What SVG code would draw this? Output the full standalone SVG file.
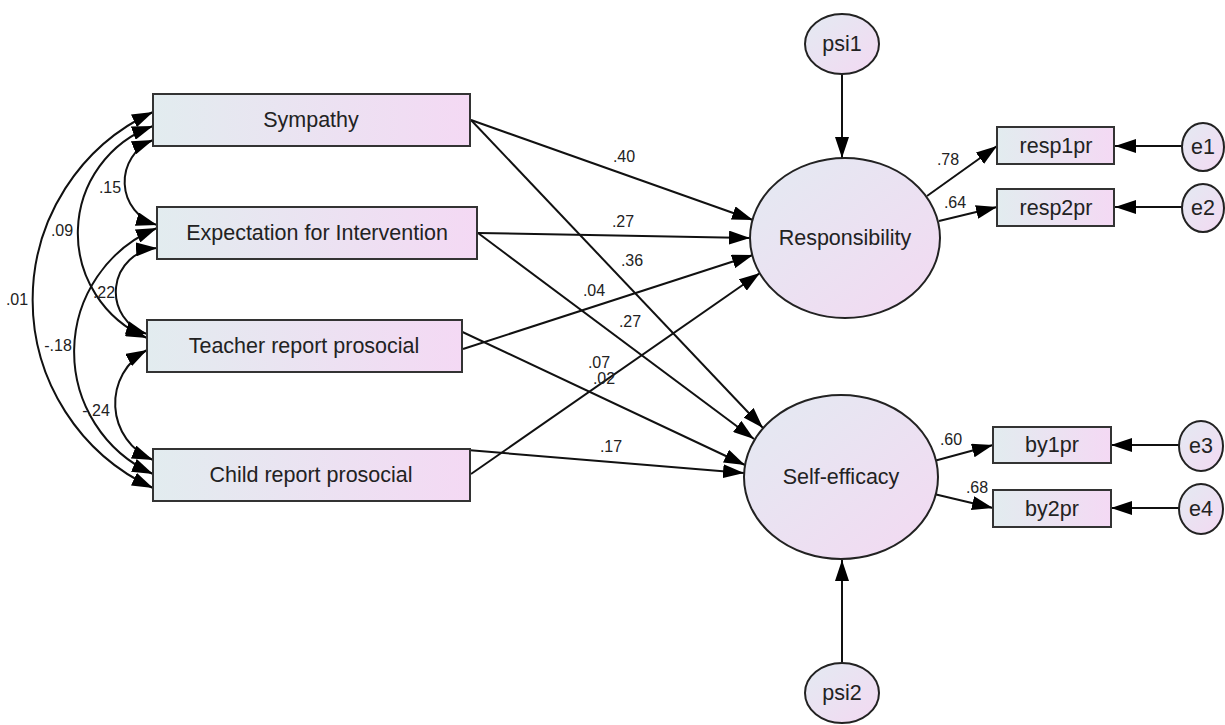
<svg xmlns="http://www.w3.org/2000/svg" width="1225" height="725" viewBox="0 0 1225 725">
  <defs>
    <linearGradient id="boxFill" x1="0" y1="0" x2="1" y2="0">
      <stop offset="0" stop-color="#e2ecef"/>
      <stop offset="1" stop-color="#f4d9f4"/>
    </linearGradient>
    <linearGradient id="ovalFill" x1="0" y1="0" x2="1" y2="1">
      <stop offset="0" stop-color="#e3eaf2"/>
      <stop offset="1" stop-color="#f3d9f2"/>
    </linearGradient>
    <marker id="arrow" markerUnits="userSpaceOnUse" markerWidth="22" markerHeight="14" refX="21" refY="7" orient="auto-start-reverse">
      <path d="M0,0 L21,7 L0,14 z" fill="#000"/>
    </marker>
    <style>
      .box { fill: url(#boxFill); stroke: #333; stroke-width: 2; }
      .oval { fill: url(#ovalFill); stroke: #222; stroke-width: 2; }
      .path { fill: none; stroke: #111; stroke-width: 2; marker-end: url(#arrow); }
      .cov { fill: none; stroke: #111; stroke-width: 2; marker-start: url(#arrow); marker-end: url(#arrow); }
      .lbl { font-family: "Liberation Sans", Arial, sans-serif; font-size: 21.5px; fill: #222; text-anchor: middle; dominant-baseline: central; }
      .coef { font-family: "Liberation Sans", Arial, sans-serif; font-size: 16px; fill: #222; text-anchor: middle; dominant-baseline: central; }
    </style>
  </defs>
  <rect width="1225" height="725" fill="#fff"/>

  <!-- connectors: regressions, loadings, error terms and covariances -->
  <g id="connectors">
    <path class="path" d="M471,120 L753,220"/>
    <path class="path" d="M471,120 L763,428"/>
    <path class="path" d="M478,233 L750,238"/>
    <path class="path" d="M478,233 L754,439"/>
    <path class="path" d="M463,349 L753,255"/>
    <path class="path" d="M437,320 L745,465"/>
    <path class="path" d="M471,474 L760,273"/>
    <path class="path" d="M455,449 L744,473"/>

    <path class="path" d="M842,74 L842,158"/>
    <path class="path" d="M842,663 L842,560"/>

    <path class="path" d="M927,196 L997,146"/>
    <path class="path" d="M939,221 L997,207"/>
    <path class="path" d="M934,461 L993,445"/>
    <path class="path" d="M934,494 L993,508"/>

    <path class="path" d="M1182,146 L1115,146"/>
    <path class="path" d="M1182,207 L1115,207"/>
    <path class="path" d="M1179,445 L1111,445"/>
    <path class="path" d="M1179,508 L1111,508"/>

    <path class="cov" d="M153,112 A207,207 0 0 0 153,488"/>
    <path class="cov" d="M153,126 A114,114 0 0 0 147,338"/>
    <path class="cov" d="M153,140 A45,45 0 0 0 157,225"/>
    <path class="cov" d="M157,248 A44,44 0 0 0 147,334"/>
    <path class="cov" d="M157,228 A134,134 0 0 0 153,474"/>
    <path class="cov" d="M147,350 A61,61 0 0 0 153,460"/>

    <text class="coef" x="17" y="299">.01</text>
    <text class="coef" x="62" y="230">.09</text>
    <text class="coef" x="110" y="187">.15</text>
    <text class="coef" x="104" y="292">.22</text>
    <text class="coef" x="58" y="345">-.18</text>
    <text class="coef" x="96" y="410">-.24</text>

    <text class="coef" x="624" y="156">.40</text>
    <text class="coef" x="623" y="221">.27</text>
    <text class="coef" x="632" y="260">.36</text>
    <text class="coef" x="594" y="290">.04</text>
    <text class="coef" x="630" y="321">.27</text>
    <text class="coef" x="599" y="362">.07</text>
    <text class="coef" x="604" y="378">.02</text>
    <text class="coef" x="611" y="446">.17</text>

    <text class="coef" x="948" y="159">.78</text>
    <text class="coef" x="955" y="202">.64</text>
    <text class="coef" x="951" y="439">.60</text>
    <text class="coef" x="977" y="487">.68</text>
  </g>

  <g id="sympathy">
    <rect class="box" x="153" y="94" width="317" height="52"/>
    <text class="lbl" x="311" y="120">Sympathy</text>
  </g>
  <g id="expectation">
    <rect class="box" x="157" y="207" width="320" height="52"/>
    <text class="lbl" x="317" y="233">Expectation for Intervention</text>
  </g>
  <g id="teacher">
    <rect class="box" x="147" y="320" width="315" height="52"/>
    <text class="lbl" x="304" y="346">Teacher report prosocial</text>
  </g>
  <g id="child">
    <rect class="box" x="153" y="449" width="317" height="52"/>
    <text class="lbl" x="311" y="475">Child report prosocial</text>
  </g>

  <g id="responsibility">
    <ellipse class="oval" cx="845" cy="238" rx="95" ry="80"/>
    <text class="lbl" x="845" y="238">Responsibility</text>
  </g>
  <g id="self-efficacy">
    <ellipse class="oval" cx="841" cy="477" rx="97" ry="82"/>
    <text class="lbl" x="841" y="477">Self-efficacy</text>
  </g>
  <g id="psi1">
    <ellipse class="oval" cx="842" cy="44" rx="37" ry="30"/>
    <text class="lbl" x="842" y="44">psi1</text>
  </g>
  <g id="psi2">
    <ellipse class="oval" cx="842" cy="693" rx="37" ry="30"/>
    <text class="lbl" x="842" y="693">psi2</text>
  </g>

  <g id="resp1pr">
    <rect class="box" x="997" y="127" width="117" height="37"/>
    <text class="lbl" x="1056" y="146">resp1pr</text>
  </g>
  <g id="resp2pr">
    <rect class="box" x="997" y="189" width="117" height="37"/>
    <text class="lbl" x="1056" y="208">resp2pr</text>
  </g>
  <g id="by1pr">
    <rect class="box" x="993" y="427" width="118" height="36"/>
    <text class="lbl" x="1052" y="445">by1pr</text>
  </g>
  <g id="by2pr">
    <rect class="box" x="993" y="490" width="118" height="37"/>
    <text class="lbl" x="1052" y="509">by2pr</text>
  </g>

  <g id="e1">
    <ellipse class="oval" cx="1203" cy="147" rx="21" ry="24"/>
    <text class="lbl" x="1203" y="147">e1</text>
  </g>
  <g id="e2">
    <ellipse class="oval" cx="1203" cy="208" rx="21" ry="24"/>
    <text class="lbl" x="1203" y="208">e2</text>
  </g>
  <g id="e3">
    <ellipse class="oval" cx="1201" cy="446" rx="22" ry="25"/>
    <text class="lbl" x="1201" y="446">e3</text>
  </g>
  <g id="e4">
    <ellipse class="oval" cx="1201" cy="509" rx="22" ry="25"/>
    <text class="lbl" x="1201" y="509">e4</text>
  </g>
</svg>
